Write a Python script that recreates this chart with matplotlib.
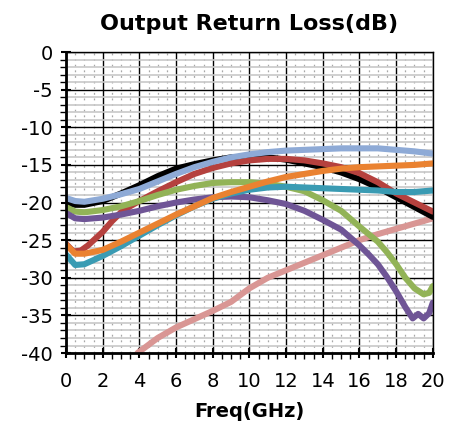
import matplotlib.pyplot as plt
from matplotlib.ticker import MultipleLocator

plt.rcParams['axes.unicode_minus'] = False

# frequency points (GHz)
freq = [0, 0.5, 1, 2, 3, 4, 5, 6, 7, 8, 9, 10, 11, 12, 13, 14, 15, 16, 17, 18, 19, 20]

s_black = [-20.0, -20.3, -20.3, -19.8, -18.8, -17.7, -16.5, -15.5, -14.9, -14.4, -14.0, -13.9,
           -14.0, -14.3, -14.8, -15.3, -16.0, -16.9, -18.0, -19.3, -20.6, -21.9]
s_teal = [-26.9, -28.3, -28.2, -27.1, -25.8, -24.4, -23.0, -21.7, -20.5, -19.5, -18.8, -18.3,
          -18.0, -17.9, -18.0, -18.1, -18.2, -18.3, -18.4, -18.6, -18.6, -18.4]
s_orange = [-25.6, -26.8, -26.8, -26.3, -25.2, -24.0, -22.8, -21.6, -20.5, -19.4, -18.6, -17.9,
            -17.2, -16.6, -16.2, -15.8, -15.5, -15.3, -15.2, -15.1, -15.0, -14.8]
s_blue = [-19.4, -19.8, -19.9, -19.5, -18.9, -18.2, -17.2, -16.2, -15.3, -14.6, -14.0, -13.6,
          -13.3, -13.1, -13.0, -12.9, -12.8, -12.8, -12.8, -13.0, -13.2, -13.5]

freq_red = [0, 0.4, 0.8, 1.2, 1.6, 2, 2.5, 3, 3.5, 4, 5, 6, 7, 8, 9, 10, 11, 12, 13, 14, 15,
            16, 17, 18, 19, 20]
s_red = [-25.5, -26.5, -26.4, -25.7, -24.8, -23.9, -22.5, -21.3, -20.5, -19.8, -18.5, -17.3,
         -16.2, -15.4, -14.8, -14.4, -14.2, -14.2, -14.4, -14.8, -15.3, -16.1, -17.3, -18.8,
         -20.0, -21.2]

freq_green = [0, 0.5, 1, 2, 3, 4, 5, 6, 7, 8, 9, 10, 11, 12, 13, 14, 15, 16, 17, 17.5, 18,
              18.5, 19, 19.5, 19.8, 20]
s_green = [-20.6, -21.2, -21.3, -21.0, -20.5, -19.8, -19.0, -18.3, -17.8, -17.4, -17.3, -17.3,
           -17.5, -17.9, -18.5, -19.7, -21.1, -23.2, -25.2, -26.6, -28.2, -30.0, -31.4, -32.2,
           -32.0, -31.1]

freq_purple = [0, 0.5, 1, 2, 3, 4, 5, 6, 7, 8, 9, 10, 11, 12, 13, 14, 15, 16, 16.5, 17, 17.5,
               18, 18.5, 18.9, 19.2, 19.5, 19.8, 20]
s_purple = [-21.4, -22.1, -22.2, -22.0, -21.6, -21.1, -20.5, -20.0, -19.6, -19.3, -19.2, -19.3,
            -19.7, -20.2, -21.1, -22.3, -23.6, -25.7, -26.9, -28.2, -29.9, -31.8, -33.9, -35.4,
            -34.8, -35.4, -34.7, -33.3]

# pink trace starts at 4 GHz
freq_pink = [3.9, 5, 6, 7, 8, 9, 10, 11, 12, 13, 14, 15, 16, 17, 18, 19, 20]
s_pink = [-40.0, -38.0, -36.6, -35.5, -34.4, -33.2, -31.4, -30.0, -29.0, -28.0, -27.0, -26.0,
          -25.0, -24.2, -23.5, -22.8, -22.1]

fig = plt.figure(figsize=(4.49, 4.30), dpi=100)
ax = fig.add_axes([0.147, 0.179, 0.817, 0.700])

lw = 4.4
ax.plot(freq_pink, s_pink, color='#d99694', lw=lw, solid_capstyle='round')
ax.plot(freq, s_black, color='#000000', lw=lw, solid_capstyle='round')
ax.plot(freq_red, s_red, color='#b5413e', lw=lw, solid_capstyle='round')
ax.plot(freq_green, s_green, color='#92b357', lw=lw, solid_capstyle='round')
ax.plot(freq_purple, s_purple, color='#6f5596', lw=lw, solid_capstyle='round')
ax.plot(freq, s_teal, color='#3a9bb3', lw=lw, solid_capstyle='round')
ax.plot(freq, s_orange, color='#ea8231', lw=lw, solid_capstyle='round')
ax.plot(freq, s_blue, color='#8eaad6', lw=lw, solid_capstyle='round')

ax.set_xlim(0, 20)
ax.set_ylim(-40, 0)
ax.xaxis.set_major_locator(MultipleLocator(2))
ax.xaxis.set_minor_locator(MultipleLocator(0.5))
ax.yaxis.set_major_locator(MultipleLocator(5))
ax.yaxis.set_minor_locator(MultipleLocator(1))

ax.grid(which='major', color='black', lw=1.0, zorder=0)
ax.grid(which='minor', axis='y', color='#c8c8c8', lw=1.2, zorder=0)
ax.grid(which='minor', axis='x', color='#a8a8a8', lw=0.9, ls=(0, (1.5, 3)), zorder=0)
ax.set_axisbelow(True)

for sp in ax.spines.values():
    sp.set_color('black')
    sp.set_linewidth(1.0)
ax.spines['left'].set_linewidth(2.0)
ax.spines['bottom'].set_linewidth(2.0)

ax.tick_params(which='major', direction='inout', length=7, width=1.5, labelsize=14, pad=6)
ax.tick_params(which='minor', direction='out', length=4, width=1.0)
ax.tick_params(axis='x', pad=10)

ax.set_title('Output Return Loss(dB)', fontsize=16, fontweight='bold', pad=16)
ax.set_xlabel('Freq(GHz)', fontsize=14, fontweight='bold', labelpad=8)

fig.savefig('out.png', dpi=100)
